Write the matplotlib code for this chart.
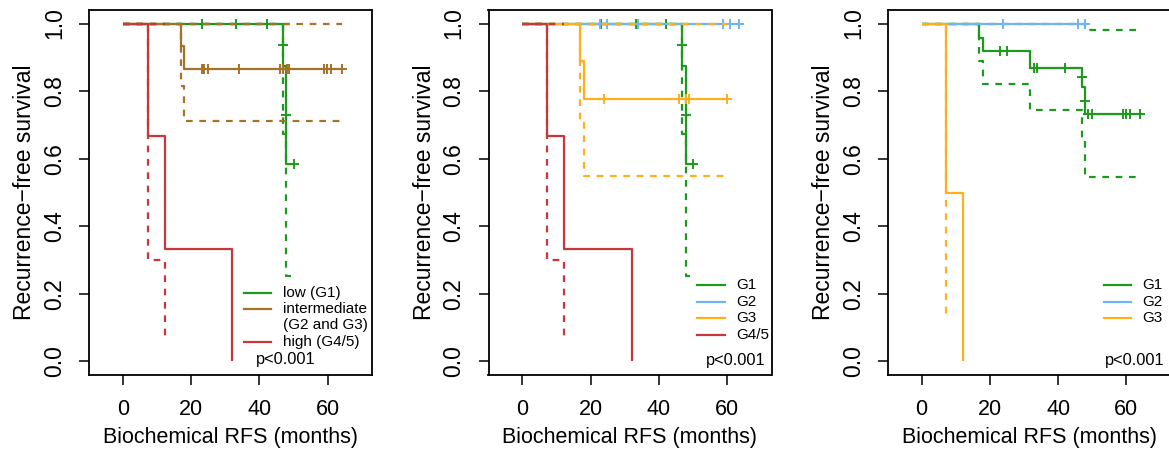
import matplotlib
matplotlib.use("Agg")
import matplotlib.pyplot as plt
from matplotlib.lines import Line2D

plt.rcParams['font.family'] = ['Liberation Sans', 'DejaVu Sans']

W, H = 1169, 451

# ---------------- data ----------------
x_ticks = [0, 20, 40, 60]
y_ticks = [0.0, 0.2, 0.4, 0.6, 0.8, 1.0]
y_ticklabels = ["0.0", "0.2", "0.4", "0.6", "0.8", "1.0"]
x_label = "Biochemical RFS (months)"
y_label = "Recurrence\u2212free survival"
p_text = "p<0.001"

# G1 / low group (panels 1 and 2)
g1_t = [0, 46.8, 47.8]
g1_s = [1.0, 0.875, 0.583]
g1_lo = [1.0, 0.673, 0.252]
g1_end = 50.0
g1_cens_t = [23.1, 33.2, 42.2, 46.8, 47.8, 50.0]
g1_cens_s = [1.0, 1.0, 1.0, 0.937, 0.729, 0.583]

# intermediate (G2 and G3), panel 1
mid_t = [0, 17.07, 18.04]
mid_s = [1.0, 0.933, 0.866]
mid_lo = [1.0, 0.814, 0.712]
mid_end = 64.1
mid_cens_t = [23.1, 23.9, 24.9, 34.1, 45.9, 47.0, 48.0, 48.8, 58.9, 59.7, 60.9, 64.1]

# high (G4/5), panels 1 and 2
hi_t = [0, 7.2, 12.2, 32.0]
hi_s = [1.0, 0.667, 0.333, 0.0]
hi_lo_t = [0, 7.2, 12.2]
hi_lo = [1.0, 0.30, 0.067]
hi_ci_end = 12.2

# G2, panel 2 (no events)
g2_end = 63.6
g2_cens_t = [22.8, 24.8, 33.9, 58.7, 60.7, 63.6]

# G3, panel 2
g3_t = [0, 16.98, 17.95]
g3_s = [1.0, 0.889, 0.778]
g3_lo = [1.0, 0.706, 0.549]
g3_end = 60.1
g3_cens_t = [23.9, 45.8, 47.8, 48.8, 60.1]

# panel 3: G1
p3g1_t = [0, 16.8, 17.9, 31.9, 47.0, 47.8]
p3g1_s = [1.0, 0.958, 0.918, 0.869, 0.812, 0.732]
p3g1_lo = [1.0, 0.889, 0.820, 0.745, 0.655, 0.547]
p3g1_up_t = [0, 47.8]
p3g1_up = [1.0, 0.98]
p3g1_end = 63.9
p3g1_cens_t = [22.9, 24.9, 32.9, 33.9, 42.0, 47.0, 47.8, 48.8, 49.8, 59.0, 60.0, 61.0, 63.9]
p3g1_cens_s = [0.918, 0.918, 0.869, 0.869, 0.869, 0.8405, 0.772, 0.732, 0.732, 0.732, 0.732, 0.732, 0.732]

# panel 3: G2
p3g2_end = 47.8
p3g2_cens_t = [23.9, 45.9, 47.8]

# panel 3: G3
p3g3_t = [0, 7.1, 12.0]
p3g3_s = [1.0, 0.5, 0.0]
p3g3_lo_t = [0, 7.1]
p3g3_lo = [1.0, 0.135]
p3g3_ci_end = 7.1

legend1 = ["low (G1)", "intermediate\n(G2 and G3)", "high (G4/5)"]
legend2 = ["G1", "G2", "G3", "G4/5"]
legend3 = ["G1", "G2", "G3"]

# ---------------- style ----------------
C_GREEN = "#1c9a1c"
C_BROWN = "#a47228"
C_RED = "#c8373a"
C_BLUE = "#70b5f0"
C_ORANGE = "#ffae1c"
LW = 1.6
DASH = (0, (3.0, 3.0))


def fx(px):
    return px / W


def fy(py):
    return 1 - py / H


def step(ax, t, s, end, color, ls='-'):
    xs = list(t) + [end]
    ys = list(s) + [s[-1]]
    ax.step(xs, ys, where='post', color=color, lw=LW, linestyle=ls,
            solid_capstyle='butt', dash_capstyle='butt')


def marks(ax, t, s, color):
    ax.plot(t, s, linestyle='none', marker='+', color=color,
            markersize=6.5, mew=1.4)


def setup(ax):
    ax.set_xlim(-9.95, 73.0)
    ax.set_ylim(-0.04, 1.04)
    ax.set_xticks(x_ticks)
    ax.set_xticklabels([str(v) for v in x_ticks], fontsize=15.5)
    ax.set_yticks(y_ticks)
    ax.set_yticklabels(y_ticklabels, rotation=90, va='center', fontsize=16.5)
    ax.tick_params(axis='both', direction='out', length=7.5, width=1.1, color='black')
    ax.tick_params(axis='x', pad=10)
    ax.tick_params(axis='y', pad=9)
    for sp in ax.spines.values():
        sp.set_linewidth(1.3)
    ax.set_xlabel(x_label, fontsize=15.5, labelpad=5)
    ax.set_ylabel(y_label, fontsize=16.5, labelpad=5)


fig = plt.figure(figsize=(W / 100, H / 100), dpi=100)
lefts = [89, 488.5, 887.7]
axes = []
for lx in lefts:
    ax = fig.add_axes([fx(lx), fy(375), 283 / W, 365 / H])
    setup(ax)
    axes.append(ax)

# ---- panel 1 ----
ax = axes[0]
# low (G1)
step(ax, g1_t, g1_s, g1_end, C_GREEN)
step(ax, g1_t, g1_lo, g1_end, C_GREEN, DASH)
step(ax, [0], [1.0], g1_end, C_GREEN, DASH)
marks(ax, g1_cens_t, g1_cens_s, C_GREEN)
# intermediate
step(ax, mid_t, mid_s, mid_end, C_BROWN)
step(ax, mid_t, mid_lo, mid_end, C_BROWN, DASH)
step(ax, [0], [1.0], mid_end, C_BROWN, DASH)
marks(ax, mid_cens_t, [mid_s[-1]] * len(mid_cens_t), C_BROWN)
# high
step(ax, hi_t, hi_s, hi_t[-1], C_RED)
step(ax, hi_lo_t, hi_lo, hi_ci_end, C_RED, DASH)
step(ax, [0], [1.0], hi_ci_end, C_RED, DASH)

# ---- panel 2 ----
ax = axes[1]
step(ax, g1_t, g1_s, g1_end, C_GREEN)
step(ax, g1_t, g1_lo, g1_end, C_GREEN, DASH)
step(ax, [0], [1.0], g1_end, C_GREEN, DASH)
marks(ax, g1_cens_t, g1_cens_s, C_GREEN)
step(ax, [0], [1.0], g2_end, C_BLUE)
marks(ax, g2_cens_t, [1.0] * len(g2_cens_t), C_BLUE)
step(ax, g3_t, g3_s, g3_end, C_ORANGE)
step(ax, g3_t, g3_lo, g3_end, C_ORANGE, DASH)
step(ax, [0], [1.0], g3_end, C_ORANGE, DASH)
marks(ax, g3_cens_t, [g3_s[-1]] * len(g3_cens_t), C_ORANGE)
step(ax, hi_t, hi_s, hi_t[-1], C_RED)
step(ax, hi_lo_t, hi_lo, hi_ci_end, C_RED, DASH)
step(ax, [0], [1.0], hi_ci_end, C_RED, DASH)

# ---- panel 3 ----
ax = axes[2]
step(ax, p3g1_t, p3g1_s, p3g1_end, C_GREEN)
step(ax, p3g1_t, p3g1_lo, p3g1_end, C_GREEN, DASH)
step(ax, p3g1_up_t, p3g1_up, p3g1_end, C_GREEN, DASH)
marks(ax, p3g1_cens_t, p3g1_cens_s, C_GREEN)
step(ax, [0], [1.0], p3g2_end, C_BLUE)
marks(ax, p3g2_cens_t, [1.0] * len(p3g2_cens_t), C_BLUE)
step(ax, p3g3_t, p3g3_s, p3g3_t[-1], C_ORANGE)
step(ax, p3g3_lo_t, p3g3_lo, p3g3_ci_end, C_ORANGE, DASH)
step(ax, [0], [1.0], p3g3_ci_end, C_ORANGE, DASH)


# ---- legends (no frame) ----
def leg_line(x0, x1, y, color):
    fig.add_artist(Line2D([fx(x0), fx(x1)], [fy(y), fy(y)], color=color, lw=LW,
                          transform=fig.transFigure))


def leg_text(x, y, s, size=11.0):
    fig.text(fx(x), fy(y), s, ha='left', va='center', fontsize=size)


# panel 1
leg_line(244, 271, 293.3, C_GREEN)
leg_line(244, 271, 309.3, C_BROWN)
leg_line(244, 271, 341.7, C_RED)
leg_text(283, 293.3, legend1[0])
line_a, line_b = legend1[1].split("\n")
leg_text(283, 309.3, line_a)
leg_text(283, 325.3, line_b)
leg_text(283, 341.7, legend1[2])
leg_text(256, 359.5, p_text, 11.8)

# panel 2
rows2 = [285, 301.7, 318, 334.7]
cols2 = [C_GREEN, C_BLUE, C_ORANGE, C_RED]
for r, c, lab in zip(rows2, cols2, legend2):
    leg_line(697, 725, r, c)
    leg_text(736, r, lab)
leg_text(706, 361, p_text, 11.8)

# panel 3
rows3 = [285, 301.7, 318]
cols3 = [C_GREEN, C_BLUE, C_ORANGE]
for r, c, lab in zip(rows3, cols3, legend3):
    leg_line(1104, 1131, r, c)
    leg_text(1142, r, lab)
leg_text(1105, 361, p_text, 11.8)

fig.savefig("out.png", dpi=100)
